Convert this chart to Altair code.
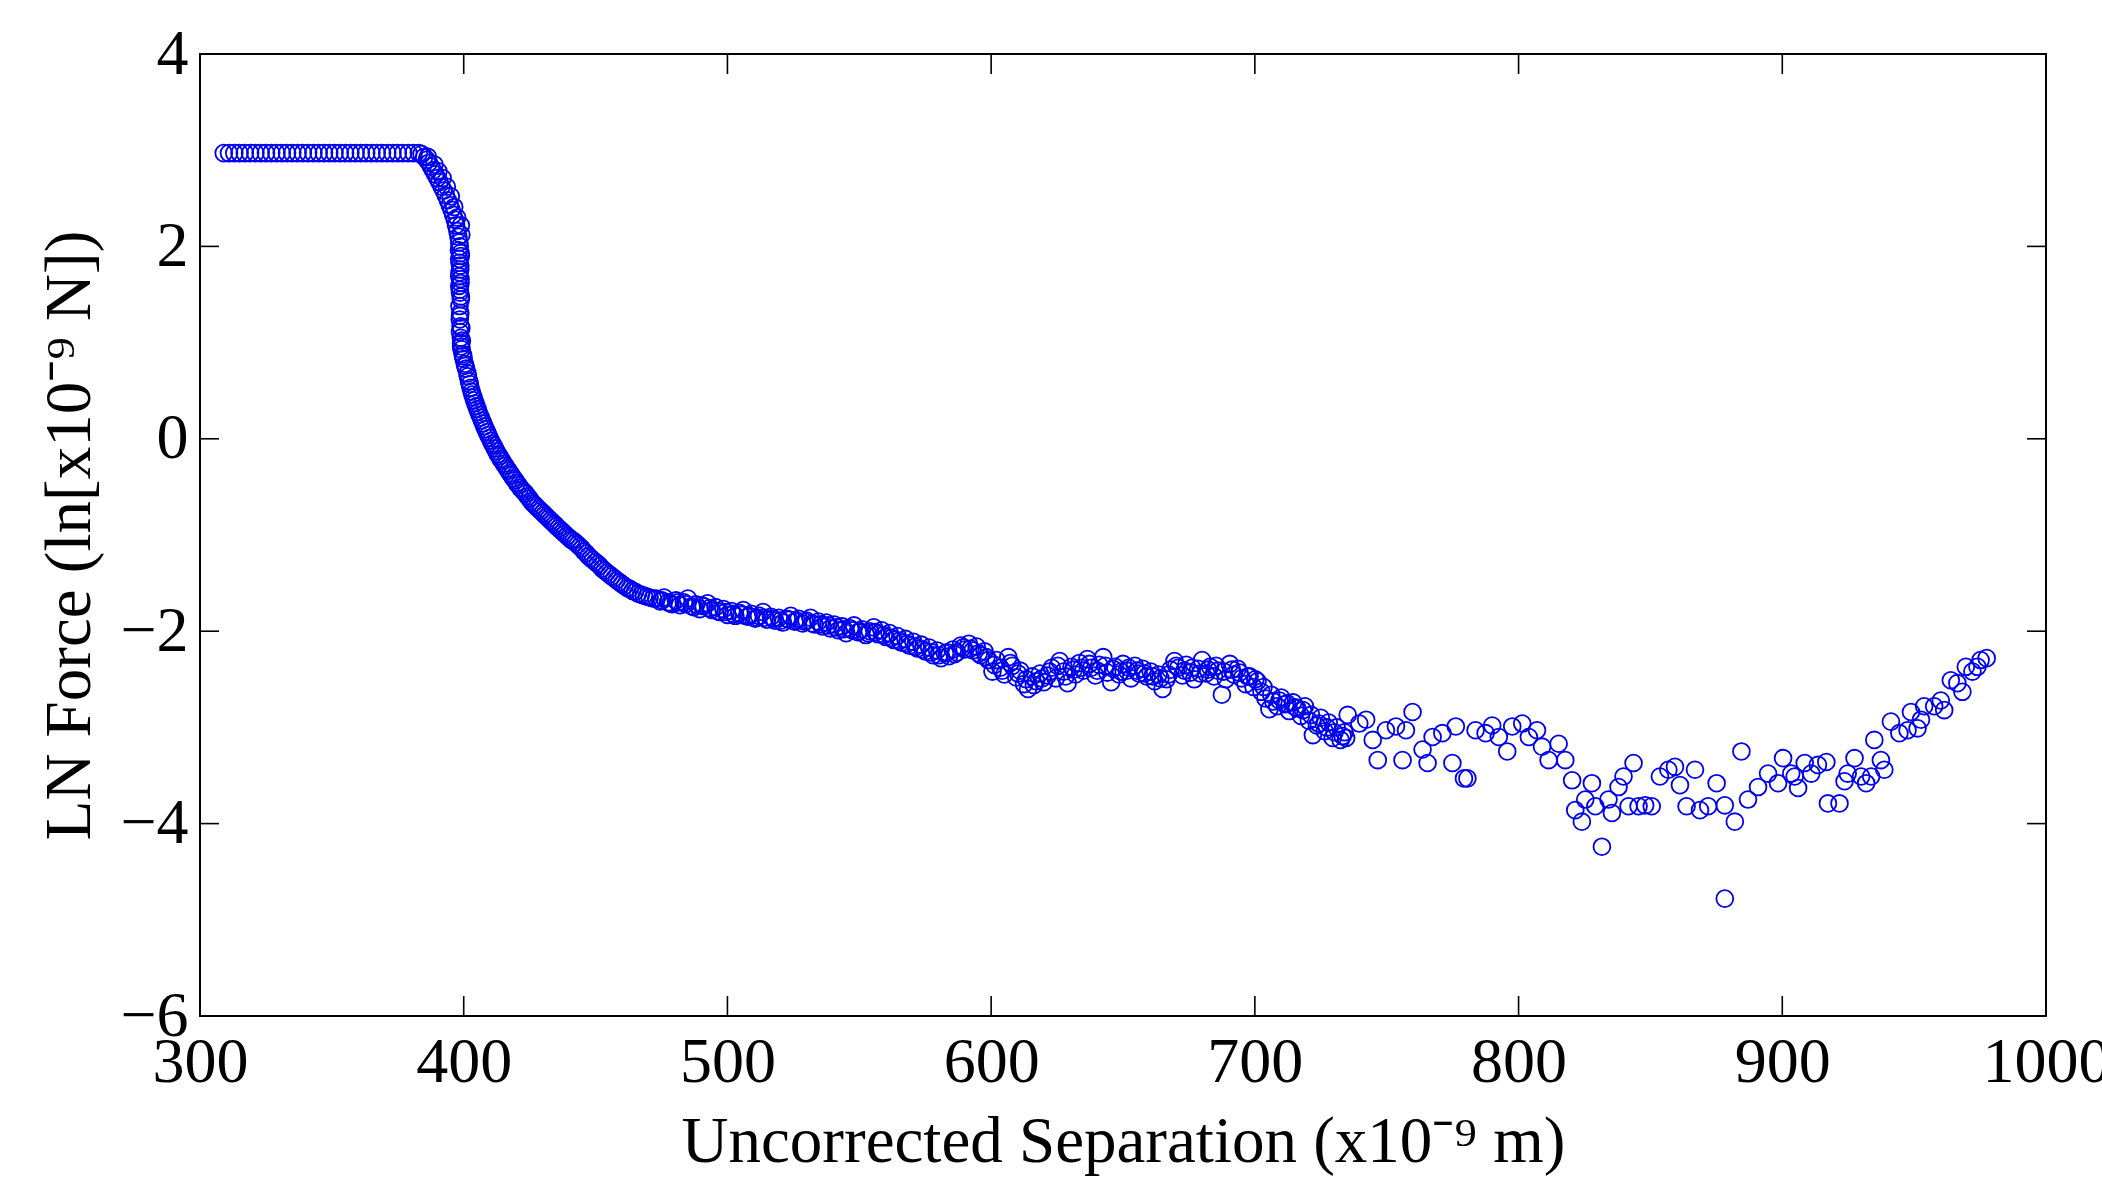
import altair as alt
import pandas as pd

# ---------------- data ----------------
sep_plateau = [309, 311, 313, 315, 317, 319, 321, 323, 325, 327, 329, 331, 333, 335, 337,
               339, 341, 343, 345, 347, 349, 351, 353, 355, 357, 359, 361, 363, 365, 367,
               369, 371, 373, 375, 377, 379, 381, 383]
force_plateau = [2.97, 2.97, 2.97, 2.97, 2.97, 2.97, 2.97, 2.97, 2.97, 2.97,
                 2.97, 2.97, 2.97, 2.97, 2.97, 2.97, 2.97, 2.97, 2.97, 2.97,
                 2.97, 2.97, 2.97, 2.97, 2.97, 2.97, 2.97, 2.97, 2.97, 2.97,
                 2.97, 2.97, 2.97, 2.97, 2.97, 2.97, 2.97, 2.97]

sep_drop = [384, 385, 386, 386.8, 387.6, 388.4, 389.2, 390, 390.8, 391.6, 392.4, 393.2,
            394, 394.7, 395.4, 396, 396.6, 397.1, 397.6, 398.0, 398.3,
            398.5, 398.8, 398.3, 398.7, 398.4, 398.8, 398.3, 398.6, 398.9, 398.4, 398.7,
            398.5, 398.8, 398.6, 398.9, 399.0, 399.2]
force_drop = [2.96, 2.93, 2.90, 2.87, 2.83, 2.79, 2.75, 2.71, 2.67, 2.62, 2.58, 2.53,
              2.48, 2.43, 2.38, 2.33, 2.28, 2.22, 2.16, 2.10, 2.04,
              2.00, 1.93, 1.87, 1.80, 1.73, 1.66, 1.59, 1.52, 1.45, 1.38, 1.31,
              1.24, 1.17, 1.11, 1.05, 0.99, 0.93]

sep_drop2 = [386.4, 388.9, 390.4, 392.0, 393.6, 395.1, 396.4, 397.5, 398.9, 399.1, 398.2,
             398.9, 398.4, 398.7, 398.3, 398.8, 398.5, 398.9, 398.6, 399.1, 399.3, 399.0]
force_drop2 = [2.93, 2.85, 2.78, 2.71, 2.62, 2.52, 2.41, 2.30, 2.22, 2.12, 1.96,
               1.90, 1.83, 1.76, 1.69, 1.62, 1.55, 1.48, 1.28, 1.15, 1.02, 0.96]

sep_decay = [399.6, 400.0, 400.4, 400.9, 401.4, 402.0, 402.6, 403.3, 404.0, 404.8, 405.6,
             406.5, 407.4, 408.3, 409.3, 410.3, 411.3, 412.4, 413.5, 414.6, 415.8, 417.0,
             418.2, 419.5, 420.8, 422.1, 423.5, 424.9, 426.3, 427.7, 429.2, 430.7, 432.2,
             433.7, 435.2, 436.8, 438.4, 440.0, 441.6, 443.2, 444.8, 446.5, 448.2, 449.9,
             451.6, 453.4, 455.2, 457.1, 459.0, 461.0, 463.0, 465.0, 467.2, 469.4, 471.7]
force_decay = [0.88, 0.83, 0.78, 0.73, 0.68, 0.60, 0.53, 0.46, 0.40, 0.34, 0.28,
               0.22, 0.16, 0.10, 0.04, -0.02, -0.07, -0.13, -0.18, -0.23, -0.28, -0.33,
               -0.38, -0.43, -0.48, -0.53, -0.57, -0.62, -0.67, -0.71, -0.75, -0.79, -0.83,
               -0.87, -0.91, -0.95, -0.99, -1.03, -1.06, -1.10, -1.14, -1.19, -1.24, -1.28,
               -1.32, -1.37, -1.41, -1.45, -1.49, -1.53, -1.56, -1.59, -1.62, -1.64, -1.66]

sep_decay2 = [399.8, 400.6, 401.6, 402.3, 403.0, 403.7, 404.4, 405.2, 406.0, 406.9, 407.8,
              408.8, 409.8, 410.8, 411.8, 412.9, 414.0, 415.2, 416.4, 417.6, 418.8, 420.1,
              421.4, 422.8, 424.2, 425.6, 427.0, 428.5, 430.0, 431.5, 433.0, 434.5, 436.0,
              437.6, 439.2, 440.8, 442.4, 444.0, 445.6, 447.3, 449.0, 450.8, 452.5, 454.3,
              456.1, 458.0, 460.0, 462.0, 464.0, 466.1, 468.3, 470.5]
force_decay2 = [0.86, 0.76, 0.65, 0.57, 0.49, 0.43, 0.37, 0.31, 0.25, 0.19, 0.13,
                0.07, 0.01, -0.05, -0.10, -0.16, -0.21, -0.26, -0.31, -0.36, -0.41, -0.46,
                -0.51, -0.55, -0.60, -0.65, -0.69, -0.73, -0.77, -0.81, -0.85, -0.89, -0.93,
                -0.97, -1.01, -1.05, -1.08, -1.12, -1.17, -1.22, -1.26, -1.30, -1.35, -1.39,
                -1.43, -1.47, -1.51, -1.55, -1.58, -1.61, -1.63, -1.65]

sep_shoulder = [473, 474.5, 476, 477.5, 479, 480.5, 482, 483.5, 485, 486.5, 488, 489.5,
                491, 492.5, 494, 495.5, 497, 498.5, 500, 501.5, 503, 504.5, 506, 507.5,
                509, 510.5, 512, 513.5, 515, 516.5, 518, 519.5, 521, 522.5, 524, 525.5,
                527, 528.5, 530, 531.5, 533, 534.5, 536, 537.5, 539, 540.5, 542, 543.5,
                545, 546.5, 548, 549.5, 551, 552.5, 554, 555.5, 557, 558.5, 560, 561.5,
                563, 564.5, 566, 567.5, 569, 570.5, 572, 573.5, 575, 576.5, 578, 579.5,
                581, 582.5, 584, 585.5, 587, 588.5, 590, 591.5, 593, 594.5, 596, 597.5, 599]
force_shoulder = [-1.66, -1.69, -1.65, -1.70, -1.72, -1.68, -1.73, -1.70, -1.66, -1.74, -1.72, -1.77,
                  -1.74, -1.71, -1.78, -1.75, -1.80, -1.77, -1.83, -1.79, -1.84, -1.81, -1.78, -1.85,
                  -1.82, -1.87, -1.84, -1.80, -1.88, -1.85, -1.89, -1.86, -1.91, -1.87, -1.84, -1.90,
                  -1.87, -1.92, -1.89, -1.86, -1.93, -1.90, -1.95, -1.91, -1.97, -1.93, -1.99, -1.95,
                  -2.02, -1.97, -1.94, -2.01, -1.98, -2.04, -2.00, -1.96, -2.03, -1.99, -2.06, -2.02,
                  -2.09, -2.05, -2.12, -2.08, -2.15, -2.11, -2.18, -2.14, -2.21, -2.17, -2.25, -2.20,
                  -2.28, -2.23, -2.26, -2.19, -2.22, -2.15, -2.19, -2.13, -2.20, -2.16, -2.25, -2.21, -2.30]

sep_shoulder2 = [475.2, 478.3, 481.2, 484.2, 487.3, 490.2, 493.3, 496.2, 499.3, 502.2, 505.3,
                 508.2, 511.3, 514.2, 517.3, 520.2, 523.3, 526.2, 529.3, 532.2, 535.3, 538.2,
                 541.3, 544.2, 547.3, 550.2, 553.3, 556.2, 559.3, 562.2, 565.3, 568.2, 571.3,
                 574.2, 577.3, 580.2, 583.3, 586.2, 589.3, 592.2, 595.3, 598.2]
force_shoulder2 = [-1.68, -1.71, -1.70, -1.72, -1.75, -1.73, -1.76, -1.79, -1.80, -1.82, -1.83,
                   -1.84, -1.86, -1.86, -1.87, -1.89, -1.88, -1.89, -1.90, -1.92, -1.93, -1.94,
                   -1.96, -1.98, -1.99, -2.00, -2.02, -2.01, -2.04, -2.07, -2.10, -2.13, -2.16,
                   -2.19, -2.22, -2.25, -2.22, -2.24, -2.17, -2.18, -2.23, -2.27]

sep_wavy = [600.5, 602, 603.5, 605, 606.5, 608, 609.5, 611, 612.5, 614, 615.5, 617, 618.5,
            620, 621.5, 623, 624.5, 626, 627.5, 629, 630.5, 632, 633.5, 635, 636.5, 638,
            639.5, 641, 642.5, 644, 645.5, 647, 648.5, 650, 651.5, 653, 654.5, 656, 657.5,
            659, 660.5, 662, 663.5, 665, 666.5, 668, 669.5, 671, 672.5, 674, 675.5, 677,
            678.5, 680, 681.5, 683, 684.5, 686, 687.5, 689, 690.5, 692, 693.5, 695, 696.5,
            698, 699.5, 701, 702.5, 704, 705.5, 707, 708.5, 710, 711.5, 713, 714.5, 716,
            717.5, 719, 720.5, 722, 723.5, 725, 726.5, 728, 729.5, 731, 732.5, 734]
force_wavy = [-2.42, -2.30, -2.38, -2.45, -2.27, -2.36, -2.48, -2.41, -2.55, -2.60, -2.47, -2.52, -2.44,
              -2.53, -2.46, -2.38, -2.49, -2.31, -2.42, -2.54, -2.37, -2.45, -2.33, -2.41, -2.29, -2.38,
              -2.46, -2.35, -2.27, -2.43, -2.53, -2.37, -2.45, -2.34, -2.41, -2.49, -2.36, -2.44, -2.39,
              -2.47, -2.42, -2.52, -2.45, -2.60, -2.50, -2.40, -2.31, -2.38, -2.46, -2.35, -2.43, -2.50,
              -2.39, -2.30, -2.44, -2.37, -2.47, -2.41, -2.66, -2.50, -2.34, -2.45, -2.39, -2.49, -2.55,
              -2.47, -2.58, -2.52, -2.63, -2.70, -2.81, -2.73, -2.78, -2.69, -2.76, -2.83, -2.74, -2.80,
              -2.88, -2.78, -2.93, -3.08, -2.98, -2.90, -3.04, -2.95, -3.11, -3.00, -3.13, -3.05]

sep_wavy2 = [601.2, 604.2, 607.3, 610.2, 613.3, 616.2, 619.3, 622.2, 625.3, 628.2, 631.3,
             634.2, 637.3, 640.2, 643.3, 646.2, 649.3, 652.2, 655.3, 658.2, 661.3, 664.2,
             667.3, 670.2, 673.3, 676.2, 679.3, 682.2, 685.3, 688.2, 691.3, 694.2, 697.3,
             700.2, 703.3, 706.2, 709.3, 712.2, 715.3, 718.2, 721.3, 724.2, 727.3, 730.2, 733.3]
force_wavy2 = [-2.35, -2.41, -2.33, -2.44, -2.50, -2.56, -2.49, -2.42, -2.36, -2.47, -2.40,
               -2.38, -2.34, -2.41, -2.36, -2.39, -2.42, -2.38, -2.41, -2.44, -2.47, -2.49,
               -2.45, -2.36, -2.41, -2.38, -2.44, -2.40, -2.36, -2.42, -2.40, -2.43, -2.47,
               -2.50, -2.58, -2.66, -2.72, -2.75, -2.79, -2.82, -2.87, -2.96, -3.00, -3.05, -3.09]

sep_tail = [735.2, 734.6, 739.6, 742.2, 744.7, 746.6, 749.7, 753.5, 756.0, 757.3, 759.8,
            763.6, 765.5, 767.4, 771.1, 774.9, 776.2, 779.3, 780.6, 783.7, 787.5, 790.0,
            792.5, 795.7, 797.6, 801.4, 803.9, 807.0, 808.9, 811.4, 815.2, 817.7, 820.3,
            821.5, 824.0, 825.3, 827.8, 829.1, 831.6, 834.1, 835.4, 837.9, 839.8, 841.7,
            843.6, 845.5, 848.0, 850.5, 853.6, 856.8, 859.3, 861.2, 863.7, 866.9, 868.8,
            871.9, 875.1, 878.2, 878.2, 882.0, 884.5, 887.0, 890.8, 894.6, 898.4, 900.3,
            903.4, 904.7, 906.0, 908.5, 911.0, 913.5, 916.7, 917.3, 921.7, 923.6, 924.8,
            927.4, 929.9, 931.8, 933.7, 934.9, 937.4, 938.7, 941.2, 944.4, 947.5, 948.8,
            951.3, 952.6, 953.8, 957.6, 960.1, 961.4, 963.9, 966.4, 968.3, 969.6, 972.1,
            974.0, 975.2, 977.5]
force_tail = [-2.87, -3.11, -2.96, -2.92, -3.13, -3.34, -3.03, -2.99, -3.34, -3.03, -2.84,
              -3.23, -3.37, -3.10, -3.06, -3.37, -2.99, -3.53, -3.53, -3.03, -3.06, -2.98,
              -3.10, -3.25, -2.99, -2.96, -3.10, -3.03, -3.20, -3.34, -3.17, -3.34, -3.55,
              -3.86, -3.98, -3.75, -3.58, -3.82, -4.24, -3.75, -3.89, -3.62, -3.51, -3.82,
              -3.37, -3.82, -3.81, -3.82, -3.51, -3.44, -3.41, -3.60, -3.82, -3.44, -3.86,
              -3.82, -3.58, -3.81, -4.78, -3.98, -3.25, -3.75, -3.62, -3.48, -3.58, -3.32,
              -3.48, -3.51, -3.63, -3.37, -3.48, -3.39, -3.36, -3.79, -3.79, -3.56, -3.48,
              -3.32, -3.51, -3.58, -3.51, -3.13, -3.34, -3.44, -2.94, -3.06, -3.03, -2.84,
              -3.01, -2.92, -2.78, -2.78, -2.72, -2.82, -2.51, -2.54, -2.63, -2.37, -2.42,
              -2.37, -2.30, -2.28]

x_tick_values = [300, 400, 500, 600, 700, 800, 900, 1000]
y_tick_values = [-6, -4, -2, 0, 2, 4]

# ---------------- build table ----------------
seps = (sep_plateau + sep_drop + sep_drop2 + sep_decay + sep_decay2 + sep_shoulder
        + sep_shoulder2 + sep_wavy + sep_wavy2 + sep_tail)
forces = (force_plateau + force_drop + force_drop2 + force_decay + force_decay2 + force_shoulder
          + force_shoulder2 + force_wavy + force_wavy2 + force_tail)
df = pd.DataFrame({"sep": seps, "force": forces})
xt = pd.DataFrame({"sep": x_tick_values})
yt = pd.DataFrame({"force": y_tick_values})

W, H = 1846, 962
FONT = "Liberation Serif"

x_scale = alt.Scale(domain=[300, 1000], nice=False, zero=False)
y_scale = alt.Scale(domain=[-6, 4], nice=False, zero=False)

x_axis = alt.Axis(values=x_tick_values, title="Uncorrected Separation (x10\u207b\u2079 m)",
                  ticks=False, domain=False, grid=False, labelFlush=False,
                  labelFont=FONT, labelFontSize=64, labelColor="black", labelPadding=14,
                  titleFont=FONT, titleFontSize=65, titleFontWeight="normal",
                  titleColor="black", titlePadding=16, format="d")
y_axis = alt.Axis(values=y_tick_values, title="LN Force (ln[x10\u207b\u2079 N])",
                  ticks=False, domain=False, grid=False, labelFlush=False,
                  labelFont=FONT, labelFontSize=64, labelColor="black", labelPadding=12,
                  titleFont=FONT, titleFontSize=65, titleFontWeight="normal",
                  titleColor="black", titlePadding=16, format="d")

x_enc = alt.X("sep:Q", scale=x_scale, axis=x_axis)
y_enc = alt.Y("force:Q", scale=y_scale, axis=y_axis)

points = alt.Chart(df).mark_point(shape="circle", filled=False, size=283,
                                  strokeWidth=1.8, color="#0000f0", opacity=1).encode(
    x=x_enc, y=y_enc)

tick_style = dict(color="black", strokeWidth=1.6)
xb = alt.Chart(xt).mark_rule(**tick_style).encode(x=x_enc, y=alt.value(H), y2=alt.value(H - 20))
xtp = alt.Chart(xt).mark_rule(**tick_style).encode(x=x_enc, y=alt.value(0), y2=alt.value(20))
yl = alt.Chart(yt).mark_rule(**tick_style).encode(y=y_enc, x=alt.value(0), x2=alt.value(19))
yr = alt.Chart(yt).mark_rule(**tick_style).encode(y=y_enc, x=alt.value(W), x2=alt.value(W - 19))

chart = alt.layer(points, xb, xtp, yl, yr).properties(
    width=W, height=H,
    autosize=alt.AutoSizeParams(type="none"),
    padding={"left": 200, "top": 54, "right": 56, "bottom": 163},
    background="white",
).configure_view(stroke="black", strokeWidth=2)

chart.save("out.html", embed_options={"renderer": "svg", "actions": False})
